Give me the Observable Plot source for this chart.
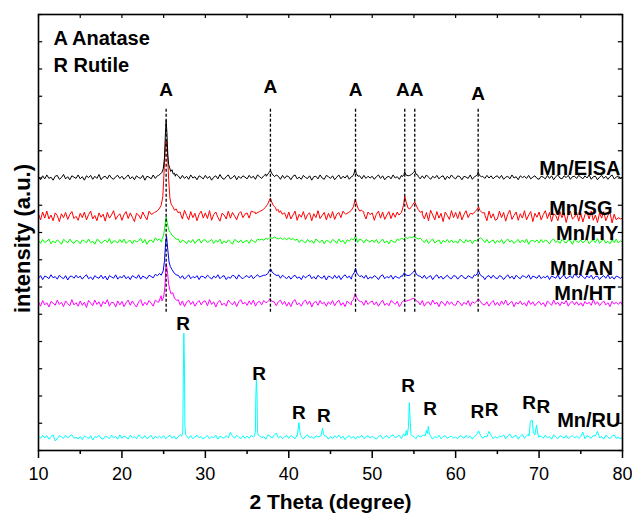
<!DOCTYPE html>
<html>
<head>
<meta charset="utf-8">
<script src="https://cdn.jsdelivr.net/npm/d3@7"></script>
<script src="https://cdn.jsdelivr.net/npm/@observablehq/plot@0.6"></script>
<style>
  html, body { margin: 0; padding: 0; background: #fff; }
  #chart { width: 632px; height: 515px; }
</style>
</head>
<body>
<div id="chart"></div>
<script>
// ---------- DATA ----------
// 2θ sampling grid of the noisy background (10° → 80°, 0.25° step)
const gridStart = 10, gridStep = 0.25, gridCount = 281;

// stacking offsets (a.u.)
const offsets = { EISA: 626, SG: 537, HY: 479, AN: 397, HT: 337, RU: 30 };

// background (noise) per sample, relative to the offset
const eisaNoise = [
  2,-5,4,-3,6,-2,1,-6,3,5,-4,0,7,-3,2,-5,4,1,-2,6,
  -3,2,-6,4,0,5,-4,3,-2,7,-5,1,3,-3,6,-1,-4,2,5,-2,
  3,-4,1,6,-3,2,-5,4,0,-2,5,-6,3,1,-3,6,-2,4,8,12,
  0,0,0,0,0,0,8,4,-3,5,-2,3,-4,6,-1,2,-5,4,1,-3,
  5,-2,3,-6,1,4,-3,7,-1,-4,2,6,-3,0,5,-5,3,-2,4,1,
  -3,5,-1,3,-4,6,2,-2,4,8,0,0,0,0,6,3,-4,5,-2,4,
  2,-5,3,6,-3,1,-4,5,0,-2,4,-6,2,3,-3,6,-1,-4,5,2,
  -2,4,-5,1,6,-3,3,-1,5,-4,2,0,0,0,4,-3,5,-2,3,-1,
  3,-4,2,6,-2,4,-5,1,3,-3,6,-1,2,-4,5,0,0,0,0,0,
  0,0,5,-3,4,-2,6,1,-4,3,-1,5,-3,2,4,-5,3,-2,6,0,
  -3,4,2,-5,3,1,-2,6,-4,2,0,0,0,3,-2,5,-1,4,-3,2,
  4,-2,5,-4,1,3,-3,6,-1,2,-5,4,0,3,-2,5,-3,1,4,-2,
  -4,3,1,-3,5,-2,4,-5,2,6,-1,-3,4,0,5,-4,2,3,-2,5,
  1,-3,4,-1,6,-4,2,3,-5,1,5,-2,3,-4,2,6,-3,1,4,-2,
  2
];
const sgNoise = [
  5,-8,10,-4,12,-6,3,-10,8,2,-12,6,-3,9,-7,4,11,-5,0,-9,
  7,-3,10,-8,4,12,-6,2,-10,8,-2,5,-11,9,-4,3,13,-7,1,6,
  -9,4,11,-5,8,-2,-12,7,3,-6,10,0,-8,12,5,0,0,0,0,0,
  0,0,0,0,0,0,0,0,10,-6,14,2,-8,11,-3,7,-10,5,12,-4,
  8,-5,13,-9,4,10,-2,-11,7,3,-6,12,-4,9,1,-8,6,11,-3,5,
  8,-4,12,10,9,0,0,0,0,0,0,0,0,0,0,0,0,0,8,-5,
  10,-6,3,12,-9,5,-2,11,-7,4,8,-10,6,-3,13,-5,2,9,-8,7,
  -4,11,-7,5,9,-3,12,6,0,0,0,0,0,0,0,0,10,-6,10,4,
  8,-9,5,12,-4,10,-7,3,11,-5,8,-2,10,0,0,0,0,0,0,0,
  0,0,0,0,12,-6,9,-10,14,3,-8,11,-4,7,-12,10,2,-7,13,-3,
  9,-5,11,-8,4,13,-3,7,6,0,0,0,0,0,8,-10,12,-4,6,-9,
  -6,12,-3,9,-11,5,14,-7,2,10,-9,6,-4,13,-8,3,11,-12,7,-2,
  10,-8,4,13,-5,9,-12,6,2,-10,11,-3,8,-14,5,12,-6,-2,9,-11,
  7,-13,4,10,-6,12,-9,3,-14,8,-4,11,-10,2,9,-15,5,-8,-3,-6,
  -4
];
const hyNoise = [
  3,-4,5,-2,1,6,-5,2,-3,4,0,-6,5,2,-3,6,-1,-4,3,1,
  -5,4,2,-3,6,-2,1,-6,5,3,-4,0,4,-2,7,-5,2,1,-3,5,
  -2,6,-4,1,3,-5,4,-1,2,8,-3,5,-6,2,4,-2,9,3,6,-1,
  0,0,0,0,0,0,0,6,-3,4,1,-5,3,-2,5,-4,2,6,-3,4,
  4,-2,1,5,-4,3,-1,6,-5,2,-3,4,0,-6,5,2,-2,4,-3,1,
  3,-4,5,1,-2,6,4,6,3,8,5,10,7,11,8,6,9,5,8,4,
  9,5,7,3,6,-2,4,1,-3,5,-1,3,-4,6,2,-2,4,-5,3,1,
  -3,5,2,-4,6,-1,3,-5,4,1,7,4,13,-2,6,4,-3,5,2,-1,
  4,-2,5,-4,1,6,-3,2,-5,4,0,-2,6,3,8,5,10,7,11,9,
  12,9,6,8,3,-2,5,-4,2,6,-3,1,4,-5,3,-1,5,-2,4,-3,
  2,-4,6,1,-3,5,-1,4,-5,3,2,6,9,4,-2,5,-3,1,4,-4,
  3,-2,5,-5,2,6,-1,3,-4,1,5,-3,4,-2,6,-6,2,3,-1,4,
  -3,5,-2,4,1,-5,3,6,-2,2,-4,5,0,-3,4,2,-6,5,1,-2,
  4,-3,2,6,-5,1,3,-2,7,-4,2,5,-3,1,-5,4,-2,6,-3,2,
  -1
];
const anNoise = [
  -2,4,-5,3,1,-3,6,-1,2,-4,5,0,-3,4,-6,2,3,-2,5,-1,
  3,-4,2,6,-3,1,-5,4,0,-2,5,-3,3,-6,4,1,-2,6,-4,2,
  -1,5,-3,2,-5,4,1,-2,6,-4,3,0,-3,5,2,-1,7,4,9,5,
  0,0,0,0,0,0,0,5,-2,4,-4,1,6,-3,2,-1,4,-5,3,2,
  -2,5,1,-4,3,-1,6,-3,2,4,-5,1,-2,5,3,-4,6,0,-3,2,
  4,-1,5,-3,2,6,1,3,5,0,0,0,0,0,0,6,-2,5,1,-3,
  3,-4,2,5,-2,1,-5,4,-1,3,6,-3,2,-4,5,0,-2,4,-6,3,
  1,-3,5,-2,4,-5,2,6,-1,3,-4,0,0,0,2,4,-2,5,-4,1,
  -2,4,1,-5,3,6,-3,2,-1,5,-4,3,0,-2,4,0,0,0,0,0,
  0,0,0,3,-2,5,-3,1,4,-5,2,6,-2,3,-4,1,5,-1,-3,4,
  3,-4,2,5,-1,-3,4,1,-2,6,0,0,0,3,-5,2,4,-2,5,-1,
  -3,4,2,-5,1,6,-2,3,-4,5,0,-3,4,2,-1,6,-4,3,1,-2,
  5,-3,2,-1,4,-5,3,1,-2,6,-4,2,5,-3,0,4,-2,8,3,-1,
  6,2,-3,4,-1,5,-4,2,3,-5,1,4,-2,6,-3,2,-4,3,1,-2,
  2
];
const htNoise = [
  4,-6,7,-3,2,-8,5,1,-4,8,-2,3,-7,6,0,-5,9,-3,2,-6,
  6,-4,3,-9,7,1,-5,8,-2,4,-7,5,-1,9,-6,3,2,-8,6,-3,
  5,-7,2,8,-4,6,-2,-8,4,9,-5,3,-3,7,1,-6,8,4,0,0,
  0,0,0,0,0,0,0,9,-4,6,-7,3,8,-2,5,-6,2,7,-3,5,
  6,-5,9,-2,4,-8,3,7,-4,1,-6,8,2,-3,5,-7,4,9,-1,3,
  -4,6,-2,8,-6,3,5,-3,7,2,0,0,0,4,-5,4,8,-2,5,-6,
  3,-7,5,9,-3,1,-6,4,8,-2,6,-8,2,5,-4,7,-1,3,-6,4,
  -2,7,-5,3,8,-4,2,-7,6,1,-3,0,0,0,0,5,-4,7,-2,3,
  6,-3,4,-6,2,8,-4,1,-5,7,3,-2,5,-7,0,0,0,0,0,0,
  0,0,5,-3,7,-6,2,4,-4,8,-1,3,-7,5,2,-5,6,-2,4,-3,
  -4,6,2,-5,3,-2,7,-6,4,1,5,11,4,-2,-3,4,-6,2,7,-4,
  3,-5,6,-2,8,-4,1,5,-7,3,-1,6,-3,2,-6,7,-2,4,-5,1,
  5,-3,2,-7,6,1,-4,8,-2,3,-5,4,-1,7,-6,2,5,-3,4,-4,
  2,-6,5,-1,3,-4,9,-2,4,-5,1,6,-3,2,-7,5,-1,3,-2,4,
  -3
];
const ruNoise = [
  3,-2,5,-1,4,-4,2,6,-8,-3,4,1,-2,5,-1,3,6,-2,1,-4,
  2,-5,3,1,-3,4,-6,2,0,5,-2,-4,3,1,-3,5,-1,2,-4,6,
  -2,3,1,-4,5,-1,2,-3,6,0,-2,4,-3,1,5,-4,2,-1,3,-2,
  4,-3,1,5,-2,3,-4,2,6,0,0,3,-2,4,-3,1,5,-1,2,-4,
  1,4,-3,2,-1,5,-4,3,0,-2,4,-1,12,3,-2,5,1,-3,4,-2,
  3,-2,5,1,0,0,4,-1,2,-4,6,3,-2,5,10,-1,3,-3,2,4,
  -2,4,1,-3,5,0,2,-4,3,6,-1,2,-3,4,1,3,0,0,3,-4,
  2,-3,4,-1,5,-2,3,-5,1,4,-2,3,-4,2,0,5,-3,1,4,-2,
  3,-1,-4,2,5,-3,1,4,-2,3,6,-1,2,5,-3,8,0,0,0,4,
  2,-3,5,1,4,6,0,0,3,-4,2,-1,5,-3,2,4,-2,1,3,-2,
  1,-3,4,2,-2,5,-1,3,-4,2,6,15,4,-2,3,1,14,5,-3,2,
  -2,4,1,6,-3,3,8,-1,2,5,-4,3,7,-2,4,8,0,0,0,0,
  0,3,-2,5,-1,2,-4,6,1,-3,4,2,-2,5,-3,1,4,-1,3,-2,
  2,12,-3,4,1,-2,5,3,14,-1,2,-4,5,1,-3,3,6,-2,1,-4,
  2
];

// diffraction peaks: [2θ, intensity above background]
const eisaPeaks = [
  [[24.4,5],[24.6,8],[24.8,12],[24.95,20],[25.1,45],[25.2,95],[25.3,131],[25.4,100],[25.5,52],[25.6,30],[25.7,24],[25.85,14],[26.0,18],[26.15,8],[26.3,10],[26.4,3]],
  [[37.3,3],[37.5,8],[37.65,12],[37.8,16],[37.95,10],[38.1,6],[38.3,2]],
  [[47.6,2],[47.8,8],[47.95,19],[48.1,9],[48.3,3]],
  [[53.6,2],[53.8,7],[53.9,13],[54.05,6],[54.3,4],[54.5,5],[54.7,7],[54.95,12],[55.1,15],[55.25,8],[55.5,3]],
  [[62.4,3],[62.6,7],[62.7,13],[62.85,5],[63.1,2]]
];
const sgPeaks = [
  [[23.6,5],[23.9,9],[24.2,12],[24.45,17],[24.7,25],[24.9,45],[25.05,100],[25.2,160],[25.3,174],[25.45,150],[25.6,85],[25.75,42],[25.9,28],[26.1,22],[26.3,14],[26.5,17],[26.7,9],[27.0,7]],
  [[36.0,6],[36.5,11],[36.9,15],[37.2,21],[37.45,27],[37.65,36],[37.8,42],[37.95,33],[38.15,25],[38.4,20],[38.55,13],[38.7,16],[38.85,9],[39.0,13],[39.2,5],[39.4,7]],
  [[46.8,5],[47.2,9],[47.5,14],[47.75,22],[47.95,39],[48.1,30],[48.3,19],[48.5,12],[48.7,14],[49.0,6]],
  [[53.2,3],[53.5,9],[53.75,25],[53.9,46],[54.05,34],[54.3,19],[54.5,17],[54.7,22],[54.9,28],[55.1,33],[55.3,24],[55.5,16],[55.8,9],[56.0,5]],
  [[62.0,5],[62.35,11],[62.6,17],[62.75,22],[62.9,14],[63.2,8],[63.5,3]]
];
const hyPeaks = [
  [[24.8,6],[25.0,15],[25.15,36],[25.3,57],[25.45,42],[25.6,27],[25.8,21],[26.0,15],[26.3,9],[26.6,5]]
];
const anPeaks = [
  [[24.7,5],[24.95,15],[25.1,38],[25.25,82],[25.35,94],[25.5,63],[25.65,35],[25.8,25],[26.0,18],[26.3,9],[26.6,5]],
  [[37.2,5],[37.5,9],[37.7,17],[37.85,19],[38.0,12],[38.3,7],[38.6,4]],
  [[47.6,4],[47.85,11],[48.0,21],[48.15,10],[48.4,4]],
  [[53.6,2],[53.85,11],[54.0,6],[54.3,4],[54.6,6],[54.9,12],[55.1,16],[55.3,7],[55.6,3]],
  [[62.4,4],[62.6,9],[62.75,16],[62.9,7],[63.2,2]]
];
const htPeaks = [
  [[24.4,3],[24.7,18],[24.8,6],[25.0,15],[25.15,38],[25.3,92],[25.45,75],[25.6,44],[25.75,31],[25.9,22],[26.1,25],[26.3,12],[26.6,7]],
  [[37.4,3],[37.6,7],[37.75,12],[37.9,6],[38.2,4]],
  [[47.5,4],[47.75,9],[47.95,23],[48.1,16],[48.3,8],[48.6,4]],
  [[53.5,2],[53.8,7],[54.0,5],[54.3,7],[54.6,9],[54.9,12],[55.15,10],[55.4,4]]
];
const ruPeaks = [
  [[27.2,3],[27.3,18],[27.35,125],[27.42,239],[27.5,156],[27.55,25],[27.65,6]],
  [[35.9,3],[36.0,15],[36.05,94],[36.12,135],[36.2,88],[36.25,12],[36.35,5]],
  [[41.0,3],[41.1,15],[41.22,34],[41.3,18],[41.4,5]],
  [[43.85,3],[43.95,12],[44.05,21],[44.15,9],[44.3,3]],
  [[53.95,3],[54.1,16],[54.2,5],[54.35,25],[54.45,80],[54.55,38],[54.65,6]],
  [[56.35,3],[56.5,16],[56.6,9],[56.72,25],[56.85,8],[57.0,3]],
  [[68.8,3],[68.95,35],[69.05,39],[69.2,39],[69.3,12],[69.5,6],[69.7,28],[69.85,8],[70.0,3]]
];

// sample names, colours and label placement
const sampleNames  = ["Mn/EISA", "Mn/SG", "Mn/HY", "Mn/AN", "Mn/HT", "Mn/RU"];
const sampleColors = ["#000000", "#ff0000", "#00ff00", "#0000ff", "#ff00ff", "#00ffff"];
const sampleLabelX = [79.76, 78.8, 79.5, 78.9, 79.15, 79.76];
const sampleLabelY = [647, 555, 498, 417, 360, 69];

// anatase reflections (A) and rutile reflections (R)
const anataseTheta  = [25.3, 37.8, 48.0, 53.9, 55.1, 62.7];
const anataseLabelX = [25.3, 37.8, 48.0, 53.68, 55.32, 62.7];
const anataseLabelY = [826, 835, 826, 826, 826, 819];
const anataseLineTop = 787, anataseLineBottom = 317;
const rutileLabelX = [27.32, 36.45, 41.2, 44.2, 54.3, 56.95, 62.6, 64.3, 68.8, 70.5];
const rutileLabelY = [291, 175, 87, 79, 148, 95, 88, 94, 109, 101];

const legendText = "A Anatase\nR Rutile";

// axes ticks
const xMajor = [10, 20, 30, 40, 50, 60, 70, 80];
const xMinor = [15, 25, 35, 45, 55, 65, 75];
const xTop = [10, 15, 20, 25, 30, 35, 40, 45, 50, 55, 60, 65, 70, 75, 80];
const yTicks = d3.range(0, 1000.01, 62.5);

// ---------- BUILD ----------
const grid = d3.range(gridCount).map(i => gridStart + i * gridStep);
function build(name, noise, peaks, offset) {
  const wins = peaks.map(p => [p[0][0], p[p.length - 1][0]]);
  const pts = noise.map((v, i) => ({theta: grid[i], v}))
    .filter(d => !wins.some(([a, b]) => d.theta > a && d.theta < b));
  for (const p of peaks) for (const [t, v] of p) pts.push({theta: t, v});
  pts.sort((a, b) => a.theta - b.theta);
  return pts.map(d => ({sample: name, theta: d.theta, intensity: offset + d.v}));
}
const series = [
  build("Mn/EISA", eisaNoise, eisaPeaks, offsets.EISA),
  build("Mn/SG", sgNoise, sgPeaks, offsets.SG),
  build("Mn/HY", hyNoise, hyPeaks, offsets.HY),
  build("Mn/AN", anNoise, anPeaks, offsets.AN),
  build("Mn/HT", htNoise, htPeaks, offsets.HT),
  build("Mn/RU", ruNoise, ruPeaks, offsets.RU)
];

const anatase = anataseLabelX.map((t, i) => ({theta: t, y: anataseLabelY[i]}));
const rutile = rutileLabelX.map((t, i) => ({theta: t, y: rutileLabelY[i]}));
const sampleLabels = sampleNames.map((n, i) => ({name: n, x: sampleLabelX[i], y: sampleLabelY[i]}));

const bold = {fontWeight: "bold", fontSize: 20, fill: "black"};
const peakFont = {fontWeight: "bold", fontSize: 19, fill: "black"};

const lineMarks = [];
for (let i = series.length - 1; i >= 0; i--) {
  lineMarks.push(Plot.line(series[i], {x: "theta", y: "intensity", stroke: sampleColors[i], strokeWidth: 1}));
}

const chart = Plot.plot({
  width: 632,
  height: 515,
  marginLeft: 38,
  marginRight: 10,
  marginTop: 14,
  marginBottom: 65,
  style: {fontFamily: "'Liberation Sans', Arial, sans-serif", background: "#fff", color: "#000", overflow: "visible"},
  x: {domain: [10, 80], axis: null},
  y: {domain: [0, 1000], axis: null},
  marks: [
    ...lineMarks,
    Plot.ruleX(anataseTheta, {y1: anataseLineBottom, y2: anataseLineTop, stroke: "black", strokeWidth: 1.3, strokeDasharray: "3,2"}),
    Plot.text(anatase, {x: "theta", y: "y", text: () => "A", ...peakFont}),
    Plot.text(rutile, {x: "theta", y: "y", text: () => "R", ...peakFont}),
    Plot.text(sampleLabels, {x: "x", y: "y", text: "name", textAnchor: "end", ...bold}),
    Plot.text([legendText], {frameAnchor: "top-left", dx: 15, dy: 11, textAnchor: "start", lineAnchor: "top", lineHeight: 1.37, ...bold}),
    // inner ticks (top, left, right)
    Plot.ruleX(xTop, {y1: 1000, y2: 991, stroke: "black", strokeWidth: 1.2}),
    Plot.ruleY(yTicks, {x1: 10, x2: 10.5, stroke: "black", strokeWidth: 1.2}),
    Plot.ruleY(yTicks, {x1: 79.5, x2: 80, stroke: "black", strokeWidth: 1.2}),
    Plot.frame({stroke: "black", strokeWidth: 1.6}),
    Plot.axisX({anchor: "bottom", ticks: xMajor, tickSize: 8, tickPadding: 9, fontSize: 18, strokeWidth: 1.5, label: null, tickFormat: d => String(d)}),
    Plot.axisX({anchor: "bottom", ticks: xMinor, tickSize: 4, strokeWidth: 1.5, label: null, tickFormat: () => ""}),
    Plot.text(["2 Theta (degree)"], {frameAnchor: "bottom", dy: 52, lineAnchor: "middle", textAnchor: "middle", fontSize: 21, fontWeight: "bold", fill: "black"}),
    Plot.text(["intensity (a.u.)"], {frameAnchor: "left", dx: -16, dy: 6, rotate: -90, textAnchor: "middle", lineAnchor: "middle", fontSize: 22, fontWeight: "bold", fill: "black"})
  ]
});
document.getElementById("chart").appendChild(chart);
</script>
</body>
</html>
